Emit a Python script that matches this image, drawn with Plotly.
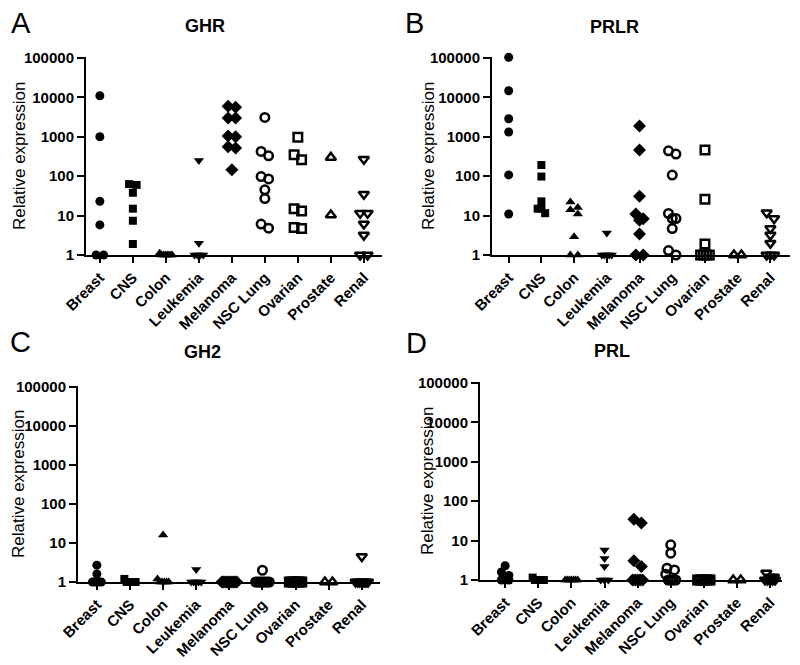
import math
import plotly.graph_objects as go

# ---------------- data ----------------
categories = ["Breast", "CNS", "Colon", "Leukemia", "Melanoma",
              "NSC Lung", "Ovarian", "Prostate", "Renal"]
y_tick_values = [1, 10, 100, 1000, 10000, 100000]
y_tick_labels = ["1", "10", "100", "1000", "10000", "100000"]

# Panel A - GHR (one list per category, same order as categories)
ghr_values = [
    [11000, 1000, 23, 5.8, 1, 1],
    [63, 60, 38, 15, 7.4, 1.9],
    [1.1, 1, 1, 1, 1, 1, 1],
    [250, 2.0, 1, 1, 1, 1],
    [6000, 5600, 3000, 3000, 1050, 1000, 560, 520, 145],
    [3100, 425, 330, 98, 85, 45, 27, 6.1, 4.8],
    [980, 350, 260, 15, 13, 5.0, 4.7],
    [300, 10.4],
    [270, 35, 11.5, 11.5, 6.1, 3.2, 1, 1],
]
# Panel B - PRLR
prlr_values = [
    [104000, 14800, 2870, 1320, 108, 11],
    [192, 98, 23, 15, 15, 11.5],
    [22, 16, 14, 11, 2.9, 1, 1],
    [3.6, 1, 1, 1, 1, 1],
    [1880, 460, 31, 11, 8.3, 7.6, 3.4, 1, 1],
    [440, 365, 107, 11.3, 8.4, 8.4, 4.7, 1.3, 1],
    [460, 26, 1.9, 1, 1, 1, 1],
    [1, 1],
    [11.8, 8.4, 4.7, 3.2, 2.0, 1, 1, 1],
]
# Panel C - GH2
gh2_values = [
    [2.7, 1.6, 1, 1, 1, 1],
    [1.2, 1, 1, 1, 1, 1],
    [16, 1.2, 1, 1, 1, 1, 1],
    [2.1, 1, 1, 1, 1, 1],
    [1, 1, 1, 1, 1, 1, 1, 1, 1],
    [2.0, 1, 1, 1, 1, 1, 1, 1, 1],
    [1, 1, 1, 1, 1, 1, 1],
    [1, 1],
    [4.5, 1, 1, 1, 1, 1, 1, 1],
]
# Panel D - PRL
prl_values = [
    [2.3, 1.6, 1.3, 1, 1, 1],
    [1.15, 1, 1, 1, 1, 1],
    [1, 1, 1, 1, 1, 1, 1],
    [5.8, 3.5, 2.2, 1, 1, 1],
    [35, 28, 3.1, 2.2, 1, 1, 1, 1, 1],
    [7.8, 4.8, 2.0, 1.8, 1.4, 1, 1, 1, 1],
    [1, 1, 1, 1, 1, 1, 1],
    [1, 1],
    [1.5, 1.2, 1.2, 1, 1, 1, 1, 1],
]

panel_titles = ["GHR", "PRLR", "GH2", "PRL"]
panel_letters = ["A", "B", "C", "D"]

# ---------------- styling ----------------
PAGE_MARGIN = 8          # default body margin of the html page
W, H = 800 - PAGE_MARGIN, 665 - PAGE_MARGIN
FONT = "Liberation Sans, Arial, Helvetica, sans-serif"

marker_styles = [
    dict(symbol="circle", size=9),
    dict(symbol="square", size=8),
    dict(symbol="triangle-up", size=9),
    dict(symbol="triangle-down", size=9),
    dict(symbol="diamond", size=10),
    dict(symbol="circle-open", size=8.5),
    dict(symbol="square-open", size=8.5),
    dict(symbol="triangle-up-open", size=9),
    dict(symbol="triangle-down-open", size=9),
]

# pixel boxes (window coords) of each plot area: (left, right, y of 100000, y of 1)
boxes = [(86, 382, 58, 255), (492, 790, 58, 255),
         (78, 380, 387, 582), (480, 782, 383, 580)]
x_ranges = [[-0.42, 8.55], [-0.51, 8.6], [-0.57, 8.55], [-0.76, 8.36]]
Y_TOP = 5.025  # small headroom above 100000 so the top point is drawn

title_pos = [(205, 26), (614, 27), (202, 352), (612, 351)]
letter_pos = [(21, 23), (415, 23), (20, 342), (416, 343)]
ytitle_pos = [(19, 156), (428, 156), (18, 484), (427, 481)]

PX_PER_CAT = 33.0
PX_PER_DEC = 39.4
ROW_TOL = 6.0
STEP = 7.5


def scatter_offsets(vals):
    """Row-based dot-plot spreading (like a column scatter plot)."""
    n = len(vals)
    order = sorted(range(n), key=lambda i: -vals[i])
    ys = [math.log10(v) * PX_PER_DEC for v in vals]
    rows = []
    for i in order:
        if rows and abs(ys[rows[-1][0]] - ys[i]) <= ROW_TOL:
            rows[-1].append(i)
        else:
            rows.append([i])
    off = [0.0] * n
    for row in rows:
        m = len(row)
        if m == 1:
            continue
        step = STEP
        if m >= 3:
            step = min(STEP, 2 * (2 + 0.6 * m) / (m - 1))
        for k, i in enumerate(row):
            off[i] = (k - (m - 1) / 2) * step / PX_PER_CAT
    return off


def px(x):
    return (x - PAGE_MARGIN) / W


def py(y):
    return 1 - (y - PAGE_MARGIN) / H


fig = go.Figure()
panels = [ghr_values, prlr_values, gh2_values, prl_values]

for p, panel in enumerate(panels):
    suffix = "" if p == 0 else str(p + 1)
    for c, vals in enumerate(panel):
        offs = scatter_offsets(vals)
        st = marker_styles[c]
        is_open = st["symbol"].endswith("-open")
        fig.add_trace(go.Scatter(
            x=[c + o for o in offs], y=vals,
            mode="markers", xaxis="x" + suffix, yaxis="y" + suffix,
            showlegend=False, cliponaxis=False, name=categories[c],
            marker=dict(symbol=st["symbol"], size=st["size"], color="black",
                        line=dict(width=2.5 if is_open else 0, color="black")),
        ))

    l, r, t, b = boxes[p]
    dec = (b - t) / 5.0
    top_px = b - Y_TOP * dec
    xa = dict(domain=[px(l), px(r)], range=x_ranges[p], automargin=False,
              tickmode="array", tickvals=list(range(len(categories))),
              ticktext=categories, tickangle=-45,
              showline=True, linecolor="black", linewidth=2,
              ticks="outside", ticklen=6, tickwidth=2, tickcolor="black",
              showgrid=False, zeroline=False, anchor="y" + suffix,
              tickfont=dict(family=FONT, size=15, color="black", weight="bold"))
    ya = dict(domain=[py(b), py(top_px)], type="log", range=[0, Y_TOP],
              automargin=False,
              tickmode="array", tickvals=y_tick_values, ticktext=y_tick_labels,
              showline=True, linecolor="black", linewidth=2,
              ticks="outside", ticklen=7, tickwidth=2, tickcolor="black",
              showgrid=False, zeroline=False, anchor="x" + suffix,
              tickfont=dict(family=FONT, size=15, color="black", weight="bold"))
    fig.update_layout(**{"xaxis" + suffix: xa, "yaxis" + suffix: ya})

annotations = []
for p in range(4):
    tx, ty = title_pos[p]
    annotations.append(dict(text=panel_titles[p], x=px(tx), y=py(ty),
                            xref="paper", yref="paper", showarrow=False,
                            xanchor="center", yanchor="middle",
                            font=dict(family=FONT, size=18, color="black", weight="bold")))
    lx, ly = letter_pos[p]
    annotations.append(dict(text=panel_letters[p], x=px(lx), y=py(ly),
                            xref="paper", yref="paper", showarrow=False,
                            xanchor="center", yanchor="middle",
                            font=dict(family=FONT, size=29, color="black")))
    ax_, ay_ = ytitle_pos[p]
    annotations.append(dict(text="Relative expression", x=px(ax_), y=py(ay_),
                            xref="paper", yref="paper", showarrow=False,
                            textangle=-90, xanchor="center", yanchor="middle",
                            font=dict(family=FONT, size=17, color="black")))

fig.update_layout(width=W, height=H, autosize=False,
                  margin=dict(l=0, r=0, t=0, b=0),
                  paper_bgcolor="white", plot_bgcolor="white",
                  annotations=annotations)

fig.write_html("out.html")
